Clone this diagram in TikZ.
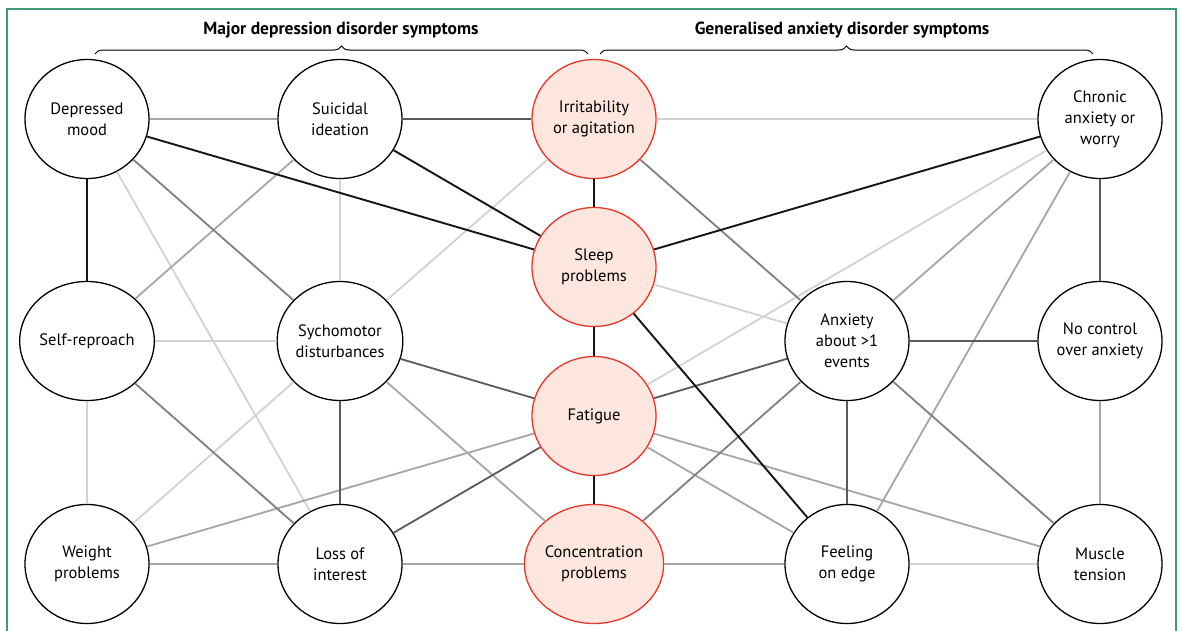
\documentclass[tikz,border=0pt]{standalone}
\usepackage{fontspec}
\setmainfont{PT Sans}
\usetikzlibrary{shapes.geometric,decorations.pathreplacing}
\definecolor{framegreen}{HTML}{3F9B73}
\definecolor{redfill}{HTML}{FDE6DD}
\definecolor{redline}{HTML}{E8352A}
\definecolor{ek}{HTML}{151515}
\definecolor{ed}{HTML}{5A5A5A}
\definecolor{em}{HTML}{808080}
\definecolor{eg}{HTML}{A6A6A6}
\definecolor{el}{HTML}{D2D2D2}
\tikzset{
  sym/.style={ellipse, draw=black, line width=1.3pt, fill=white, minimum width=124pt, minimum height=119pt, inner sep=0pt, align=center, font=\fontsize{16.5}{21}\selectfont},
  keysym/.style={sym, draw=redline, fill=redfill},
  ek/.style={draw=ek, line width=1.9pt},
  ed/.style={draw=ed, line width=1.8pt},
  em/.style={draw=em, line width=1.8pt},
  eg/.style={draw=eg, line width=1.8pt},
  el/.style={draw=el, line width=1.8pt},
  hdr/.style={font=\fontsize{17.5}{20}\selectfont\bfseries},
  bracestyle/.style={draw=black, line width=1pt, decorate, decoration={brace, amplitude=8pt}}
}
\begin{document}
\begin{tikzpicture}[x=1pt,y=-1pt]
\useasboundingbox (0,0) rectangle (1183,630);
\fill[white] (0,0) rectangle (1183,630);
\draw[framegreen, line width=1.2pt] (7,632) -- (7,9) -- (1176,9) -- (1176,632);

% headers
\node[hdr] (hmdd) at (341,30) {Major depression disorder symptoms};
\node[hdr] (hgad) at (842,30) {Generalised anxiety disorder symptoms};
\coordinate (b1a) at (95,54);
\coordinate (b1b) at (588,54);
\coordinate (b2a) at (600,54);
\coordinate (b2b) at (1093,54);
\draw[bracestyle] (b1a) -- (b1b);
\draw[bracestyle] (b2a) -- (b2b);

% nodes
\node[sym] (dep) at (87,119) {Depressed\\mood};
\node[sym] (sui) at (340,119) {Suicidal\\ideation};
\node[keysym] (irr) at (594,119) {Irritability\\or agitation};
\node[sym] (chr) at (1100,119) {Chronic\\anxiety or\\worry};
\node[keysym] (slp) at (594,267) {Sleep\\problems};
\node[sym] (slf) at (87,341) {Self-reproach};
\node[sym] (syc) at (340,341) {Sychomotor\\disturbances};
\node[sym] (anx) at (847,341) {Anxiety\\about >1\\events};
\node[sym] (noc) at (1100,341) {No control\\over anxiety};
\node[keysym] (fat) at (594,416) {Fatigue};
\node[sym] (wgt) at (87,564) {Weight\\problems};
\node[sym] (los) at (340,564) {Loss of\\interest};
\node[keysym] (con) at (594,564) {Concentration\\problems};
\node[sym] (fee) at (847,564) {Feeling\\on edge};
\node[sym] (mus) at (1100,564) {Muscle\\tension};

% edges
\path[el] (irr) -- (chr);
\path[el] (dep) -- (los);
\path[el] (sui) -- (syc);
\path[el] (irr) -- (syc);
\path[el] (slp) -- (anx);
\path[el] (chr) -- (fat);
\path[el] (slf) -- (syc);
\path[el] (slf) -- (wgt);
\path[el] (syc) -- (wgt);
\path[el] (fee) -- (mus);

\path[eg] (dep) -- (sui);
\path[eg] (sui) -- (slf);
\path[eg] (chr) -- (anx);
\path[eg] (chr) -- (fee);
\path[eg] (syc) -- (con);
\path[eg] (fat) -- (wgt);
\path[eg] (fat) -- (fee);
\path[eg] (fat) -- (mus);
\path[eg] (noc) -- (mus);
\path[eg] (wgt) -- (los);
\path[eg] (los) -- (con);
\path[eg] (con) -- (fee);

\path[em] (dep) -- (syc);
\path[em] (irr) -- (anx);
\path[em] (slf) -- (los);
\path[em] (anx) -- (con);
\path[em] (anx) -- (mus);

\path[ed] (sui) -- (irr);
\path[ed] (chr) -- (noc);
\path[ed] (syc) -- (los);
\path[ed] (syc) -- (fat);
\path[ed] (fat) -- (los);
\path[ed] (fat) -- (anx);
\path[ed] (anx) -- (noc);
\path[ed] (anx) -- (fee);

\path[ek] (dep) -- (slp);
\path[ek] (sui) -- (slp);
\path[ek] (irr) -- (slp);
\path[ek] (chr) -- (slp);
\path[ek] (dep) -- (slf);
\path[ek] (slp) -- (fee);
\path[ek] (slp) -- (fat);
\path[ek] (fat) -- (con);
\end{tikzpicture}
\end{document}
